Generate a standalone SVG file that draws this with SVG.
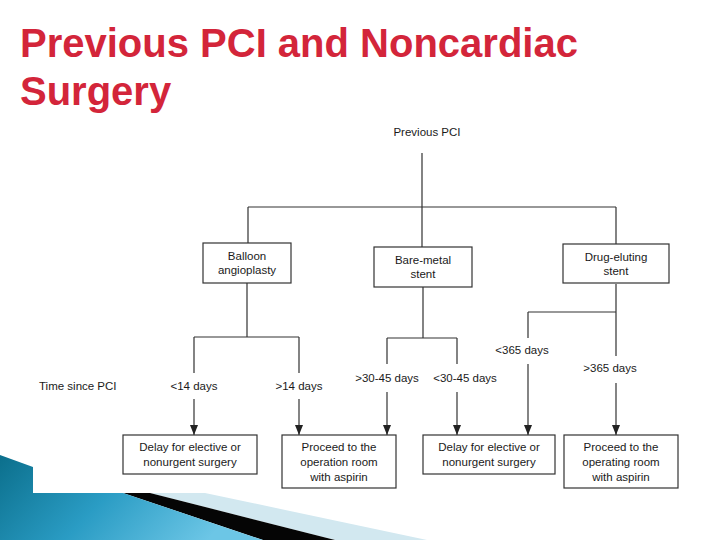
<svg xmlns="http://www.w3.org/2000/svg" width="720" height="540" viewBox="0 0 720 540">
<defs>
<style>
.t{font-family:"Liberation Sans",Arial,sans-serif;font-size:11.5px;fill:#1a1a1a;text-anchor:middle}
.tl{font-family:"Liberation Sans",Arial,sans-serif;font-size:11.5px;fill:#1a1a1a}
.box{fill:#fff;stroke:#333;stroke-width:1.2}
.ln{fill:none;stroke:#333;stroke-width:1.2}
.title{font-family:"Liberation Sans",Arial,sans-serif;font-size:40px;font-weight:bold;fill:#d3253a}
</style>
<marker id="ah" markerUnits="userSpaceOnUse" markerWidth="10" markerHeight="8" viewBox="0 0 10 8" refX="10" refY="4" orient="auto">
<path d="M0,0 L10,4 L0,8 Z" fill="#222"/>
</marker>
<linearGradient id="tealg" x1="0" y1="0" x2="1" y2="0.3">
<stop offset="0" stop-color="#0b6f8c"/>
<stop offset="0.5" stop-color="#2a9cc4"/>
<stop offset="1" stop-color="#6cc6e6"/>
</linearGradient>
</defs>
<rect width="720" height="540" fill="#fff"/>
<g id="title">
<text class="title" x="20" y="57">Previous PCI and Noncardiac</text>
<text class="title" x="20" y="105">Surgery</text>
</g>
<g id="decoration">
<polygon points="150,493 205,493 427,540 335,540" fill="#d2e8f0"/>
<polygon points="123,493 150,493 335,540 263,540" fill="#050505"/>
<polygon points="0,455 33,467 33,493 123,493 263,540 0,540" fill="url(#tealg)"/>
</g>
<g id="connectors">
<path class="ln" d="M422,153 V207 M248,207 H616 M248,207 V243 M422,207 V247 M616,207 V244"/>
<path class="ln" d="M247,283 V337 M194,337 H299 M194,337 V373 M299,337 V373"/>
<path class="ln" d="M194,399 V435" marker-end="url(#ah)"/>
<path class="ln" d="M299,399 V435" marker-end="url(#ah)"/>
<path class="ln" d="M423,287 V338 M387,338 H457 M387,338 V364 M457,338 V364"/>
<path class="ln" d="M387,392 V435" marker-end="url(#ah)"/>
<path class="ln" d="M457,392 V435" marker-end="url(#ah)"/>
<path class="ln" d="M616,284 V312 M528,312 H616 M528,312 V338 M616,312 V356"/>
<path class="ln" d="M528,364 V435" marker-end="url(#ah)"/>
<path class="ln" d="M616,383 V435" marker-end="url(#ah)"/>
</g>
<g id="root">
<text class="t" x="427" y="136">Previous PCI</text>
</g>
<g id="balloon">
<rect class="box" x="203" y="243" width="88" height="40"/>
<text class="t" x="247" y="260">Balloon</text>
<text class="t" x="247" y="274">angioplasty</text>
</g>
<g id="bms">
<rect class="box" x="374" y="247" width="98" height="40"/>
<text class="t" x="423" y="264">Bare-metal</text>
<text class="t" x="423" y="278">stent</text>
</g>
<g id="des">
<rect class="box" x="563" y="244" width="106" height="39"/>
<text class="t" x="616" y="261">Drug-eluting</text>
<text class="t" x="616" y="275">stent</text>
</g>
<g id="labels">
<text class="tl" x="39" y="390">Time since PCI</text>
<text class="t" x="194" y="390">&lt;14 days</text>
<text class="t" x="299" y="390">&gt;14 days</text>
<text class="t" x="387" y="382">&gt;30-45 days</text>
<text class="t" x="465" y="382">&lt;30-45 days</text>
<text class="t" x="522" y="354">&lt;365 days</text>
<text class="t" x="610" y="372">&gt;365 days</text>
</g>
<g id="out1">
<rect class="box" x="123" y="435" width="134" height="39"/>
<text class="t" x="190" y="451">Delay for elective or</text>
<text class="t" x="190" y="466">nonurgent surgery</text>
</g>
<g id="out2">
<rect class="box" x="282" y="435" width="114" height="53"/>
<text class="t" x="339" y="451">Proceed to the</text>
<text class="t" x="339" y="466">operation room</text>
<text class="t" x="339" y="481">with aspirin</text>
</g>
<g id="out3">
<rect class="box" x="423" y="435" width="132" height="39"/>
<text class="t" x="489" y="451">Delay for elective or</text>
<text class="t" x="489" y="466">nonurgent surgery</text>
</g>
<g id="out4">
<rect class="box" x="564" y="435" width="114" height="53"/>
<text class="t" x="621" y="451">Proceed to the</text>
<text class="t" x="621" y="466">operating room</text>
<text class="t" x="621" y="481">with aspirin</text>
</g>
</svg>
